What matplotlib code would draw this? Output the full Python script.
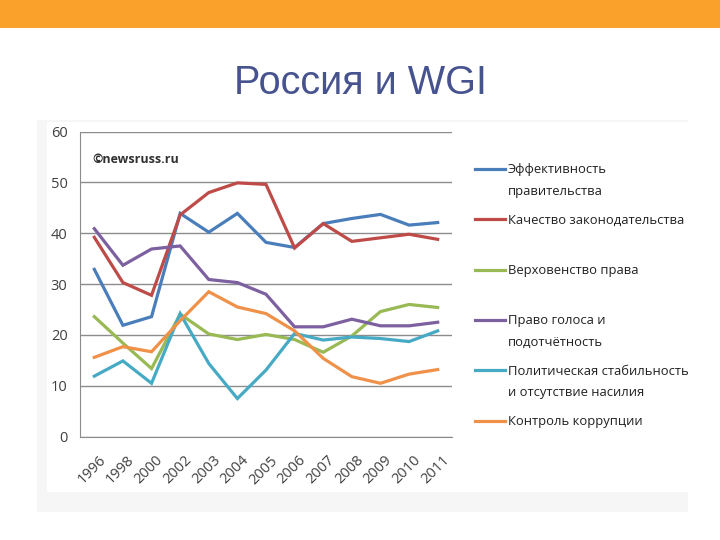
import matplotlib.pyplot as plt
from matplotlib.patches import Rectangle
from matplotlib.lines import Line2D
from matplotlib.transforms import ScaledTranslation

years = ['1996', '1998', '2000', '2002', '2003', '2004', '2005',
         '2006', '2007', '2008', '2009', '2010', '2011']

labels = ['Эффективность\nправительства',
          'Качество законодательства',
          'Верховенство права',
          'Право голоса и\nподотчётность',
          'Политическая стабильность\nи отсутствие насилия',
          'Контроль коррупции']
colors = ['#4A7EBB', '#BE4B48', '#98B954', '#7D60A0', '#46AAC5', '#F0914A']

gov_eff = [32.9, 21.9, 23.6, 43.9, 40.2, 43.9, 38.2, 37.2, 41.9, 42.9, 43.7, 41.6, 42.1]
reg_quality = [39.2, 30.3, 27.8, 43.6, 48.0, 49.9, 49.6, 37.1, 41.9, 38.4, 39.1, 39.8, 38.8]
rule_of_law = [23.6, 18.4, 13.4, 24.1, 20.2, 19.1, 20.1, 19.1, 16.6, 19.8, 24.6, 26.0, 25.4]
voice = [40.9, 33.7, 36.9, 37.5, 30.9, 30.3, 28.0, 21.6, 21.6, 23.1, 21.8, 21.8, 22.5]
stability = [11.9, 14.9, 10.5, 24.2, 14.4, 7.5, 13.1, 20.3, 19.0, 19.6, 19.3, 18.7, 20.8]
corruption = [15.6, 17.7, 16.7, 22.8, 28.5, 25.5, 24.2, 20.8, 15.4, 11.8, 10.5, 12.3, 13.2]

series = [gov_eff, reg_quality, rule_of_law, voice, stability, corruption]

W, H = 720, 540
fig = plt.figure(figsize=(7.2, 5.4), dpi=100)
fig.patch.set_facecolor('white')

# orange band on top of the slide
fig.patches.append(Rectangle((0, 1 - 28 / H), 1, 28 / H, transform=fig.transFigure,
                             facecolor='#F9A12B', edgecolor='none', zorder=-2))
fig.text(360 / W, 1 - 94 / H, 'Россия и WGI', ha='center', va='baseline',
         fontsize=28.5, color='#46538F', family='Liberation Sans')

# pasted picture background: faint grey frame
fig.patches.append(Rectangle((37 / W, 1 - 512 / H), (688 - 37) / W, (512 - 120) / H,
                             transform=fig.transFigure, facecolor='#F6F6F6',
                             edgecolor='none', zorder=-2))
fig.patches.append(Rectangle((47 / W, 1 - 492 / H), (688 - 47) / W, (492 - 122) / H,
                             transform=fig.transFigure, facecolor='white',
                             edgecolor='none', zorder=-1))

ax = fig.add_axes([80 / W, 1 - 436.7 / H, (452 - 80) / W, (436.7 - 131.5) / H])
ax.set_facecolor('none')
x = range(len(years))
for vals, c, lab in zip(series, colors, labels):
    ax.plot(x, vals, color=c, lw=2.3, label=lab, solid_joinstyle='miter')

ax.set_xlim(-0.5, len(years) - 0.5)
ax.set_ylim(0, 60)
ax.set_yticks(range(0, 61, 10))
ax.set_xticks(list(x))
ax.set_xticklabels(years, rotation=45, ha='right', va='top', rotation_mode='anchor')
ax.yaxis.grid(True, color='#8C8C8C', lw=1)
ax.set_axisbelow(True)
for s in ['top', 'right']:
    ax.spines[s].set_visible(False)
for s in ['left', 'bottom']:
    ax.spines[s].set_color('#8C8C8C')
ax.tick_params(length=0, colors='#404040', labelsize=10.5)
ax.tick_params(axis='y', pad=9)
ax.tick_params(axis='x', pad=6)
shift = ScaledTranslation(4 / 100, -8 / 100, fig.dpi_scale_trans)
for t in ax.get_xticklabels():
    t.set_family('Open Sans')
    t.set_transform(t.get_transform() + shift)
for t in ax.get_yticklabels():
    t.set_family('Open Sans')

fig.text(92 / W, 1 - 159 / H, '©newsruss.ru', fontsize=9, fontweight='bold',
         color='#303030', va='center', family='Open Sans')

# legend drawn by hand, one entry every 50 px, text lines 21 px apart
for i, (c, lab) in enumerate(zip(colors, labels)):
    ypx = 169 + 50.3 * i
    fig.lines.append(Line2D([475 / W, 505 / W], [1 - ypx / H, 1 - ypx / H],
                            transform=fig.transFigure, color=c, lw=2.3))
    for k, part in enumerate(lab.split('\n')):
        fig.text(508 / W, 1 - (ypx + 4.5 + 21 * k) / H, part, ha='left', va='baseline',
                 fontsize=9.4, color='#202020', family='Open Sans')

fig.savefig('out.png', dpi=100)
